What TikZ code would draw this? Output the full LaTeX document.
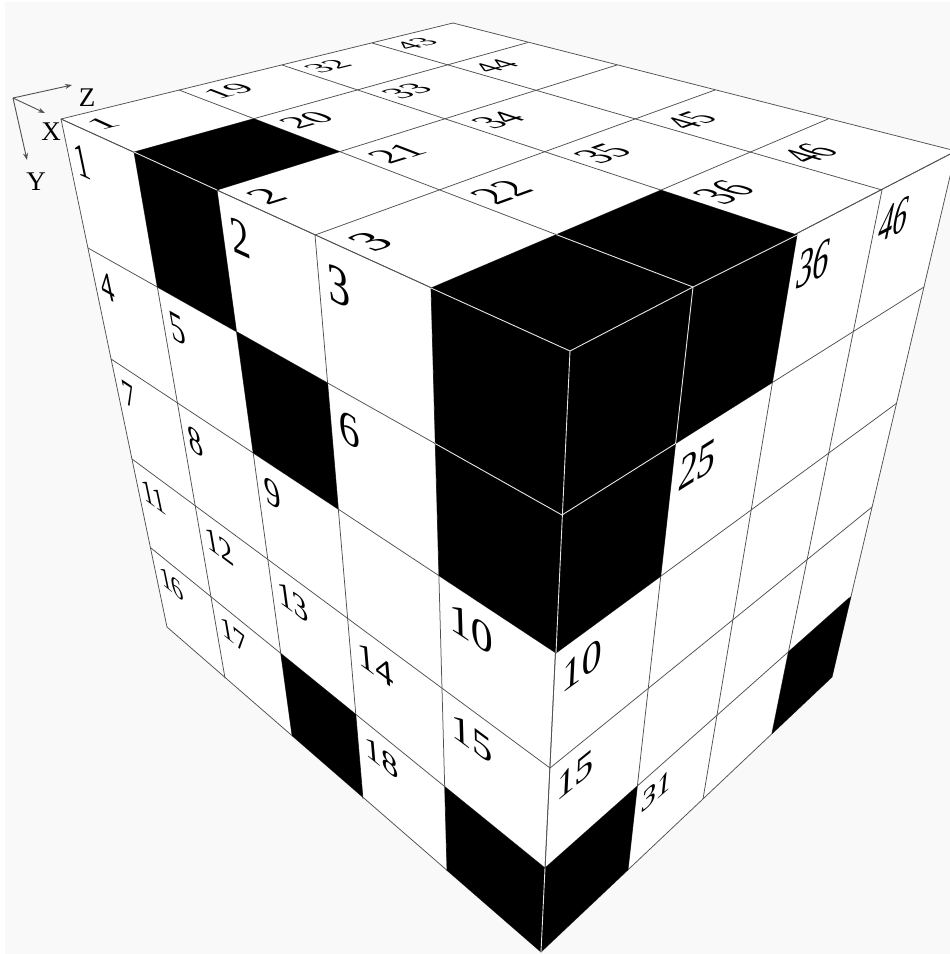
\documentclass[tikz,border=0pt]{standalone}
\usepackage{fontspec}
\setmainfont{Liberation Serif}
\usetikzlibrary{arrows.meta}
\definecolor{bgc}{HTML}{F9F9F9}
\definecolor{gridc}{HTML}{505050}
\definecolor{innerc}{HTML}{E6E6E6}
\newdimen\lbOx \newdimen\lbOy \newdimen\lbRx \newdimen\lbRy \newdimen\lbDx \newdimen\lbDy
\newcount\lbNo
\tikzset{
  gridline/.style={draw=gridc,line width=0.75pt},
  innerline/.style={draw=innerc,line width=0.9pt},
  axisline/.style={draw=gridc,line width=0.9pt,-{Stealth[length=7pt,width=5pt]}},
  axislabel/.style={inner sep=0pt,text=black,font=\fontsize{27}{27}\selectfont},
  celllabel/.style={transform shape,anchor=base west,inner sep=0pt,text=black,font=\fontsize{38}{38}\selectfont},
}
% #1 origin, #2 right neighbour, #3 neighbour below, #4 text
\newcommand{\putlabel}[4]{%
  \pgfextractx{\lbOx}{\pgfpointanchor{#1}{center}}\pgfextracty{\lbOy}{\pgfpointanchor{#1}{center}}%
  \pgfextractx{\lbRx}{\pgfpointanchor{#2}{center}}\pgfextracty{\lbRy}{\pgfpointanchor{#2}{center}}%
  \pgfextractx{\lbDx}{\pgfpointanchor{#3}{center}}\pgfextracty{\lbDy}{\pgfpointanchor{#3}{center}}%
  \pgfmathsetmacro\ma{(\lbRx-\lbOx)/100}%
  \pgfmathsetmacro\mb{(\lbRy-\lbOy)/100}%
  \pgfmathsetmacro\mc{(\lbOx-\lbDx)/100}%
  \pgfmathsetmacro\md{(\lbOy-\lbDy)/100}%
  \global\advance\lbNo by 1
  \begin{scope}[shift={(#1)},cm={\ma,\mb,\mc,\md,(0,0)}]
    \node[celllabel] (lab\the\lbNo) at (8pt,-41pt) {#4};
  \end{scope}%
}
\newcommand{\nx}[1]{\the\numexpr#1+1\relax}
\newcommand{\lableft}[3]{\putlabel{Lg-#1-#2}{Lg-\nx{#1}-#2}{Lg-#1-\nx{#2}}{#3}}
\newcommand{\labright}[3]{\putlabel{Rg-#1-#2}{Rg-\nx{#1}-#2}{Rg-#1-\nx{#2}}{#3}}
\newcommand{\labtop}[3]{\putlabel{Tg-#1-#2}{Tg-#1-\nx{#2}}{Tg-\nx{#1}-#2}{#3}}
\newcommand{\blackcell}[3]{\fill[black] (#1-#2-#3) -- (#1-\nx{#2}-#3) -- (#1-\nx{#2}-\nx{#3}) -- (#1-#2-\nx{#3}) -- cycle;}
\begin{document}
\begin{tikzpicture}[x=1pt,y=-1pt]
\useasboundingbox (0,0) rectangle (950,954);
\fill[white] (0,0) rectangle (950,954);
\fill[bgc] (5,2) rectangle (950,954);
% edge points
\foreach \n/\p in {0/{61,119},1/{134,152},2/{217,190},3/{315,235},4/{431,288},5/{570,351}} \coordinate (Tp\n) at (\p);
\foreach \n/\p in {0/{167,627},1/{225,678},2/{292,735},3/{363,799},4/{447,871},5/{541,952}} \coordinate (Bp\n) at (\p);
\foreach \n/\p in {0/{61,119},1/{88,248},2/{111,359},3/{132,459},4/{151,548},5/{167,627}} \coordinate (Lp\n) at (\p);
\foreach \n/\p in {0/{570,351},1/{562,515},2/{556,653},3/{550,768},4/{545,868},5/{541,952}} \coordinate (Cp\n) at (\p);
\foreach \n/\p in {0/{570,351},1/{693,287},2/{797,235},3/{882,190},4/{956,151}} \coordinate (Rp\n) at (\p);
\foreach \n/\p in {0/{541,952},1/{628,870},2/{703,799},3/{772,733},4/{832,677}} \coordinate (Rb\n) at (\p);
\foreach \n/\p in {0/{956,151},1/{924,287},2/{897,403},3/{872,507},4/{849,598},5/{832,677}} \coordinate (Ep\n) at (\p);
\foreach \n/\p in {0/{453,23},1/{528,42.5},2/{617,65},3/{715,90},4/{828,119},5/{956,151}} \coordinate (Bk\n) at (\p);
\foreach \n/\p in {0/{61,119},1/{179,90},2/{282,65},3/{372,43},4/{453,23}} \coordinate (Ab\n) at (\p);
% grids
\foreach \i in {0,...,5}\foreach \j in {0,...,5}
  \coordinate (Lg-\i-\j) at (intersection cs: first line={(Tp\i)--(Bp\i)}, second line={(Lp\j)--(Cp\j)});
\foreach \i in {0,...,4}\foreach \j in {0,...,5}
  \coordinate (Rg-\i-\j) at (intersection cs: first line={(Rp\i)--(Rb\i)}, second line={(Cp\j)--(Ep\j)});
\foreach \i in {0,...,5}\foreach \j in {0,...,4}
  \coordinate (Tg-\i-\j) at (intersection cs: first line={(Tp\i)--(Bk\i)}, second line={(Ab\j)--(Rp\j)});
% faces
\fill[white] (Tp0) -- (Tp5) -- (Bp5) -- (Bp0) -- cycle;
\fill[white] (Rp0) -- (Rp4) -- (Ep5) -- (Rb0) -- cycle;
\fill[white] (Tp0) -- (Bk0) -- (Bk5) -- (Tp5) -- cycle;
% grid lines
\foreach \i in {0,...,5} \draw[gridline] (Tp\i) -- (Bp\i);
\foreach \j in {0,...,5} \draw[gridline] (Lp\j) -- (Cp\j);
\foreach \i in {0,...,4} \draw[gridline] (Rp\i) -- (Rb\i);
\foreach \j in {0,...,5} \draw[gridline] (Cp\j) -- (Ep\j);
\foreach \i in {0,...,5} \draw[gridline] (Tp\i) -- (Bk\i);
\foreach \j in {0,...,4} \draw[gridline] (Ab\j) -- (Rp\j);
% black cells
\blackcell{Lg}{1}{0}\blackcell{Lg}{2}{1}\blackcell{Lg}{4}{0}\blackcell{Lg}{4}{1}\blackcell{Lg}{2}{4}\blackcell{Lg}{4}{4}
\blackcell{Rg}{0}{0}\blackcell{Rg}{0}{1}\blackcell{Rg}{1}{0}\blackcell{Rg}{3}{4}\blackcell{Rg}{0}{4}
\fill[black] (Tg-1-0) -- (Tg-1-1) -- (Tg-2-1) -- (Tg-2-0) -- cycle;
\fill[black] (Tg-4-0) -- (Tg-4-1) -- (Tg-5-1) -- (Tg-5-0) -- cycle;
\fill[black] (Tg-4-1) -- (Tg-4-2) -- (Tg-5-2) -- (Tg-5-1) -- cycle;
% light edges between black cells
\draw[innerline] (Tp1) -- (Tp2);
\draw[innerline] (Tp4) -- (Tp5) -- (Rp1) -- (Rp2);
\draw[innerline] (Cp0) -- (Cp2);
\draw[innerline] (Cp4) -- (Cp5);
\draw[innerline] (Lg-4-1) -- (Cp1) -- (Rg-1-1) -- (Rp1);
\draw[innerline] (Tg-4-1) -- (Rp1);
% axes
\coordinate (axO) at (13,98);
\coordinate (axZ) at (72,85);
\coordinate (axX) at (45,113);
\coordinate (axY) at (27,160);
\draw[axisline] (axO) -- (axZ);
\draw[axisline] (axO) -- (axX);
\draw[axisline] (axO) -- (axY);
\node[axislabel] (labZ) at (87,98) {Z};
\node[axislabel] (labX) at (51,132) {X};
\node[axislabel] (labY) at (36,182) {Y};
% left face labels
\lableft{0}{0}{1}\lableft{2}{0}{2}\lableft{3}{0}{3}
\lableft{0}{1}{4}\lableft{1}{1}{5}\lableft{3}{1}{6}
\lableft{0}{2}{7}\lableft{1}{2}{8}\lableft{2}{2}{9}\lableft{4}{2}{10}
\lableft{0}{3}{11}\lableft{1}{3}{12}\lableft{2}{3}{13}\lableft{3}{3}{14}\lableft{4}{3}{15}
\lableft{0}{4}{16}\lableft{1}{4}{17}\lableft{3}{4}{18}
% top face labels
\labtop{0}{0}{1}\labtop{0}{1}{19}\labtop{0}{2}{32}\labtop{0}{3}{43}
\labtop{1}{1}{20}\labtop{1}{2}{33}\labtop{1}{3}{44}
\labtop{2}{0}{2}\labtop{2}{1}{21}\labtop{2}{2}{34}
\labtop{3}{0}{3}\labtop{3}{1}{22}\labtop{3}{2}{35}\labtop{3}{3}{45}
\labtop{4}{2}{36}\labtop{4}{3}{46}
% right face labels
\labright{2}{0}{36}\labright{3}{0}{46}\labright{1}{1}{25}
\labright{0}{2}{10}\labright{0}{3}{15}\labright{1}{4}{31}
\end{tikzpicture}
\end{document}
